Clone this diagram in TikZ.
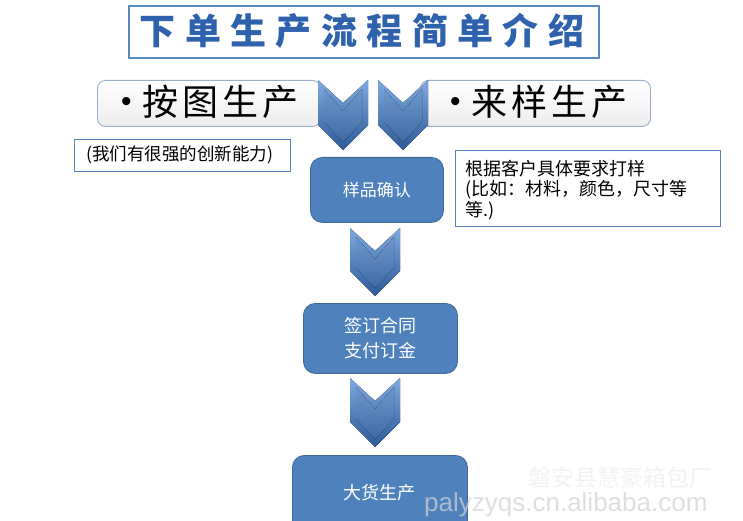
\documentclass[tikz,border=0pt]{standalone}
\usepackage{fontspec}
\setmainfont{Noto Sans CJK SC}
\newfontfamily\cjk{Noto Sans CJK SC}
\newfontfamily\wmfont{Liberation Sans}
\definecolor{titleblue}{HTML}{2F62AD}
\definecolor{titleedge}{HTML}{5A8AC6}
\definecolor{boxblue}{HTML}{4F81BD}
\definecolor{boxedge}{HTML}{3E6AA1}
\definecolor{topedge}{HTML}{98AFCB}
\definecolor{noteedge}{HTML}{5584BF}
\definecolor{chevlight}{HTML}{7FAAE0}
\definecolor{chevdark}{HTML}{2C5A98}
\definecolor{chevmid}{HTML}{4A7DC0}
\newcommand\chevshape[3]{%
  \begin{scope}[shift={(#1,#2)}]
    \fill[top color=chevlight,bottom color=chevdark]
      (-25,0) -- (0,23) -- (25,0) -- (25,#3-25) -- (0,#3) -- (-25,#3-25) -- cycle;
    \fill[top color=chevmid!80!white,bottom color=chevmid!85!black]
      (-19,9) -- (0,31) -- (19,9) -- (19,#3-28) -- (0,#3-8) -- (-19,#3-28) -- cycle;
  \end{scope}}
\newcommand\bulletmark{\raisebox{4pt}{\wmfont\fontsize{30}{30}\selectfont •}}
\newcommand\gp{\hspace{4pt}}
\begin{document}
\begin{tikzpicture}[x=1pt,y=-1pt,
  topbox/.style={draw=topedge,line width=0.9pt,rounded corners=8pt,
    top color=white,bottom color=gray!14,anchor=north west,inner sep=0pt},
  bluebox/.style={draw=boxedge,line width=0.9pt,rounded corners=12pt,fill=boxblue,
    anchor=north west,inner sep=0pt,text=white,align=center},
  notebox/.style={draw=noteedge,line width=1.2pt,fill=white,anchor=north west,inner sep=0pt},
  bigtxt/.style={font=\fontsize{36}{40}\selectfont,anchor=west,inner sep=0pt},
  notetxt/.style={font=\fontsize{17.5}{20}\selectfont,anchor=west,inner sep=0pt,align=left}]
\useasboundingbox (0,0) rectangle (743,521);
\fill[white] (0,0) rectangle (743,521);
% title
\node[draw=titleedge,line width=1.6pt,minimum width=470,minimum height=52,anchor=north west,inner sep=0pt] (title) at (128,5) {};
\node[text=titleblue,font=\fontsize{36}{40}\bfseries\selectfont,inner sep=0pt] (titletext) at (362,31)
 {下\hspace{9.4pt}单\hspace{9.4pt}生\hspace{9.4pt}产\hspace{9.4pt}流\hspace{9.4pt}程\hspace{9.4pt}简\hspace{9.4pt}单\hspace{9.4pt}介\hspace{9.4pt}绍};
% top boxes
\node[topbox,minimum width=223,minimum height=46] (left) at (97,80) {};
\node[bigtxt] (lefttext) at (121,102) {\bulletmark\hspace{11pt}按\gp 图\gp 生\gp 产};
\node[topbox,minimum width=230,minimum height=46] (right) at (420,80) {};
\node[bigtxt] (righttext) at (450,102) {\bulletmark\hspace{11pt}来\gp 样\gp 生\gp 产};
% chevrons
\chevshape{343}{80}{70}
\chevshape{403}{80}{70}
% notes
\node[notebox,minimum width=216,minimum height=32] (noteL) at (74,139) {};
\node[notetxt] (noteLtext) at (86,155) {(我们有很强的创新能力)};
\node[notebox,minimum width=265,minimum height=76] (noteR) at (455,150) {};
\node[notetxt,anchor=north west,font=\fontsize{18}{20.5}\selectfont] (noteRtext) at (465,160)
 {根据客户具体要求打样\\(比如：材料，颜色，尺寸等\\等.)};
% blue boxes
\node[bluebox,minimum width=133,minimum height=65,font=\fontsize{17}{20}\selectfont] (b1) at (310,157) {样品确认};
\chevshape{375}{228}{68}
\node[bluebox,minimum width=154,minimum height=70,font=\fontsize{18}{25}\selectfont] (b2) at (303,303) {签订合同\\支付订金};
\chevshape{375}{378}{69}
\node[bluebox,minimum width=175,minimum height=80,font=\fontsize{18}{22}\selectfont,anchor=north west] (b3) at (292,455) {};
\node[text=white,font=\fontsize{18}{22}\selectfont,inner sep=0pt] (b3text) at (379,493) {大货生产};
% watermark
\node[text=gray!10,font=\fontsize{23}{26}\selectfont,inner sep=0pt] (wm1) at (620,478) {磐安县慧豪箱包厂};
\node[text=gray!35,opacity=0.7,font=\wmfont\fontsize{26}{30}\selectfont,anchor=west,inner sep=0pt] (wm2) at (424,505) {palyzyqs.cn.alibaba.com};
\end{tikzpicture}
\end{document}
